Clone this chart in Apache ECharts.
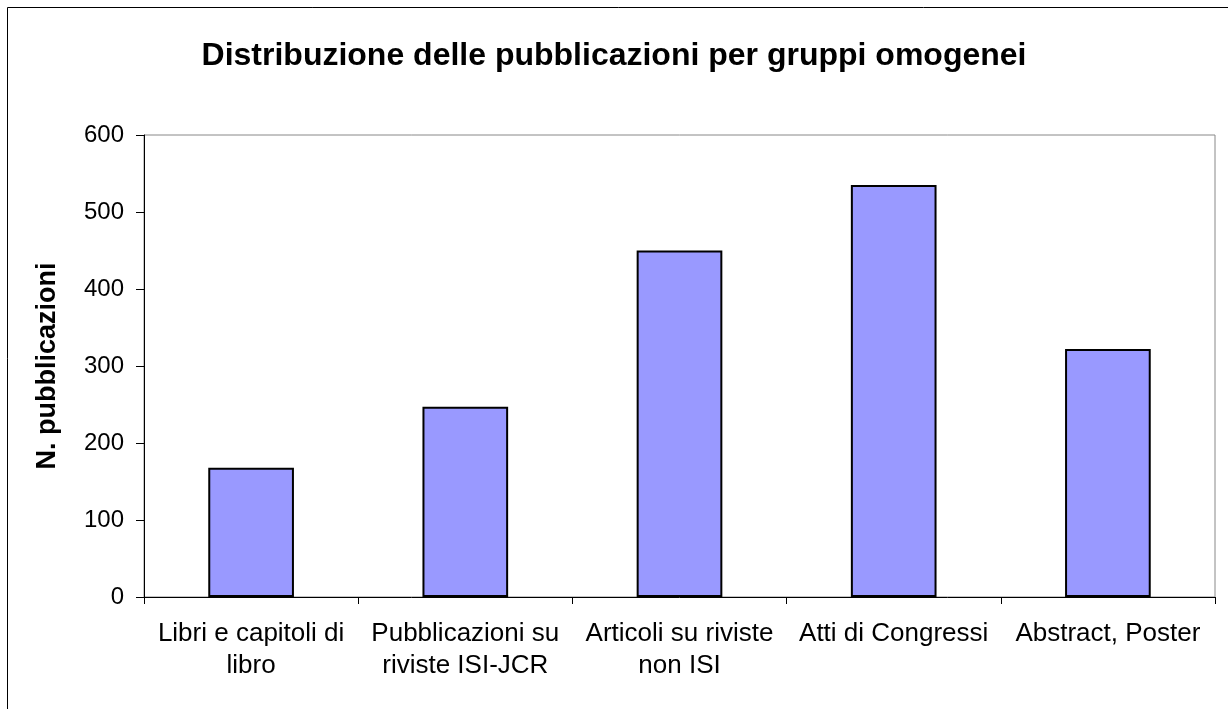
<!DOCTYPE html>
<html>
<head>
<meta charset="utf-8">
<script src="https://cdn.jsdelivr.net/npm/echarts@6/dist/echarts.min.js"></script>
<style>
  html, body { margin: 0; padding: 0; background: #fff; }
  #main { width: 1228px; height: 709px; }
</style>
</head>
<body>
<div id="main"></div>
<script>
var titleText = 'Distribuzione delle pubblicazioni per gruppi omogenei';
var yAxisName = 'N. pubblicazioni';
var categories = [
    'Libri e capitoli di\nlibro',
    'Pubblicazioni su\nriviste ISI-JCR',
    'Articoli su riviste\nnon ISI',
    'Atti di Congressi',
    'Abstract, Poster'
];
var values = [168, 247, 450, 535, 322];
var yTicks = [0, 100, 200, 300, 400, 500, 600];

var myChart = echarts.init(document.getElementById('main'));
var font = 'Liberation Sans, Arial, sans-serif';

var option = {
    animation: false,
    backgroundColor: '#fff',
    title: {
        text: titleText,
        left: 'center',
        top: 35,
        textStyle: {
            fontFamily: font,
            fontSize: 32,
            fontWeight: 'bold',
            color: '#000'
        }
    },
    graphic: [{
        type: 'rect',
        shape: { x: 7.5, y: 7.5, width: 1240, height: 720 },
        style: { fill: 'none', stroke: '#000', lineWidth: 1 },
        silent: true
    }],
    grid: {
        left: 144,
        right: 13,
        top: 135,
        bottom: 112,
        show: true,
        borderColor: '#888',
        borderWidth: 1
    },
    xAxis: {
        type: 'category',
        data: categories,
        axisLine: { lineStyle: { color: '#000', width: 1 } },
        axisTick: { show: true, alignWithLabel: false, length: 7, lineStyle: { color: '#000' } },
        axisLabel: {
            interval: 0,
            margin: 21,
            fontFamily: font,
            fontSize: 26,
            lineHeight: 32,
            color: '#000'
        },
        splitLine: { show: false }
    },
    yAxis: {
        type: 'value',
        min: yTicks[0],
        max: yTicks[yTicks.length - 1],
        interval: 100,
        name: yAxisName,
        nameLocation: 'middle',
        nameGap: 83,
        nameTextStyle: {
            fontFamily: font,
            fontSize: 27,
            fontWeight: 'bold',
            color: '#000'
        },
        axisLine: { show: true, lineStyle: { color: '#000', width: 1 } },
        axisTick: { show: true, length: 8, lineStyle: { color: '#000' } },
        axisLabel: {
            margin: 20,
            fontFamily: font,
            fontSize: 24,
            color: '#000'
        },
        splitLine: { show: false }
    },
    series: [{
        type: 'bar',
        data: values,
        barWidth: '40%',
        itemStyle: {
            color: '#9999FF',
            borderColor: '#000',
            borderWidth: 2
        }
    }]
};
myChart.setOption(option);
</script>
</body>
</html>
